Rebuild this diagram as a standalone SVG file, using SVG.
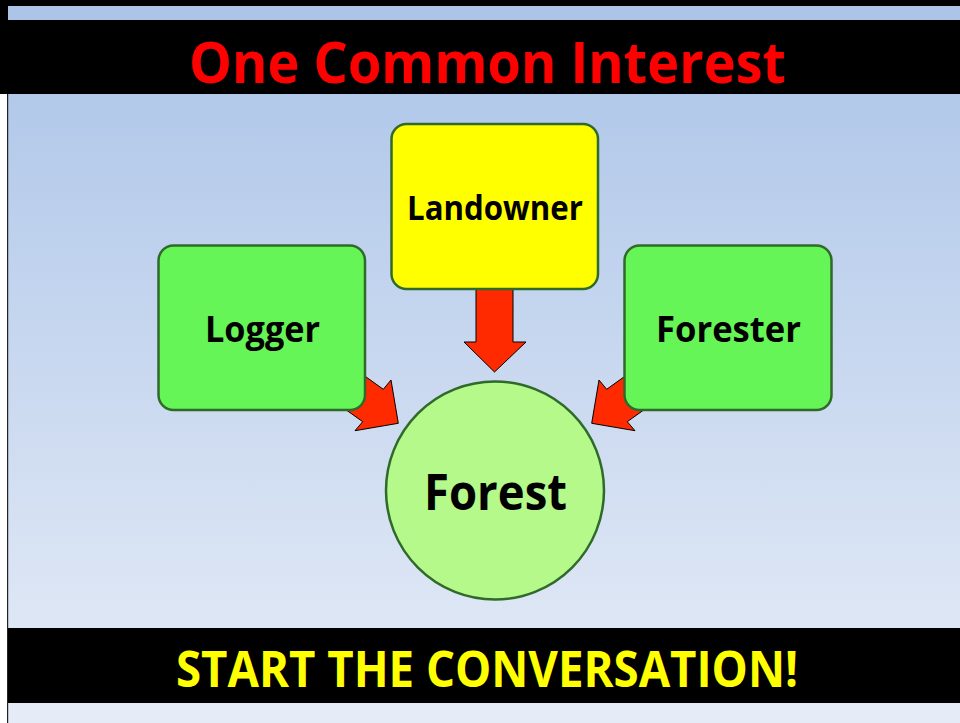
<svg xmlns="http://www.w3.org/2000/svg" width="960" height="723" viewBox="0 0 960 723">
<defs>
<linearGradient id="bg" x1="0" y1="6" x2="0" y2="723" gradientUnits="userSpaceOnUse">
<stop offset="0" stop-color="#abc4e8"/>
<stop offset="1" stop-color="#e6ecf7"/>
</linearGradient>
<style>
.box{stroke:#2f6a2a;stroke-width:2.5}
.green{fill:#66f556}
.arrow{fill:#ff2a00;stroke:#000;stroke-width:1;stroke-linejoin:miter}
.lbl{font-family:"Open Sans","Liberation Sans",sans-serif;font-weight:bold;fill:#000;text-anchor:middle}
.band{font-family:"Open Sans","Liberation Sans",sans-serif;font-weight:bold;text-anchor:middle}
</style>
</defs>
<rect x="0" y="0" width="960" height="723" fill="#fff"/>
<rect x="8" y="6" width="952" height="717" fill="url(#bg)"/>
<rect x="0" y="0" width="960" height="6" fill="#000"/>
<rect x="0" y="0" width="8" height="94" fill="#000"/>
<rect x="7" y="94" width="1.2" height="629" fill="#222"/>
<g id="header">
<rect x="8" y="20" width="952" height="74" fill="#000"/>
<text class="band" x="487.5" y="83" font-size="57" fill="#ff0000" textLength="597" lengthAdjust="spacingAndGlyphs">One Common Interest</text>
</g>
<g id="footer">
<rect x="8" y="628" width="952" height="75" fill="#000"/>
<text class="band" x="487" y="687" font-size="50" fill="#ffff00" textLength="622" lengthAdjust="spacingAndGlyphs">START THE CONVERSATION!</text>
</g>
<g id="connectors">
<polygon class="arrow" points="476,280 513,280 513,342 526,342 494.5,372 464,342 476,342"/>
<polygon class="arrow" points="334,354 383.3,389.3 391,380 398.3,423.3 355,430.7 362.7,421.7 313.6,386.7"/>
<polygon class="arrow" points="656,354 606.7,389.3 599,380 591.7,423.3 635,430.7 627.3,421.7 676.4,386.7"/>
</g>
<g id="landowner">
<rect class="box" x="391.5" y="124" width="206.5" height="165" rx="15" fill="#ffff00"/>
<text class="lbl" x="495" y="220" font-size="34" textLength="176" lengthAdjust="spacingAndGlyphs">Landowner</text>
</g>
<g id="logger">
<rect class="box green" x="158.5" y="245.5" width="206.5" height="164.5" rx="15"/>
<text class="lbl" x="262.5" y="342" font-size="35" textLength="115" lengthAdjust="spacingAndGlyphs">Logger</text>
</g>
<g id="forester">
<rect class="box green" x="624.5" y="245.5" width="207" height="164.5" rx="15"/>
<text class="lbl" x="728.5" y="342" font-size="35" textLength="145" lengthAdjust="spacingAndGlyphs">Forester</text>
</g>
<g id="forest">
<circle class="box" cx="495" cy="490.5" r="109" fill="#b4f98a"/>
<text class="lbl" x="495.5" y="510" font-size="50" textLength="143" lengthAdjust="spacingAndGlyphs">Forest</text>
</g>
</svg>
